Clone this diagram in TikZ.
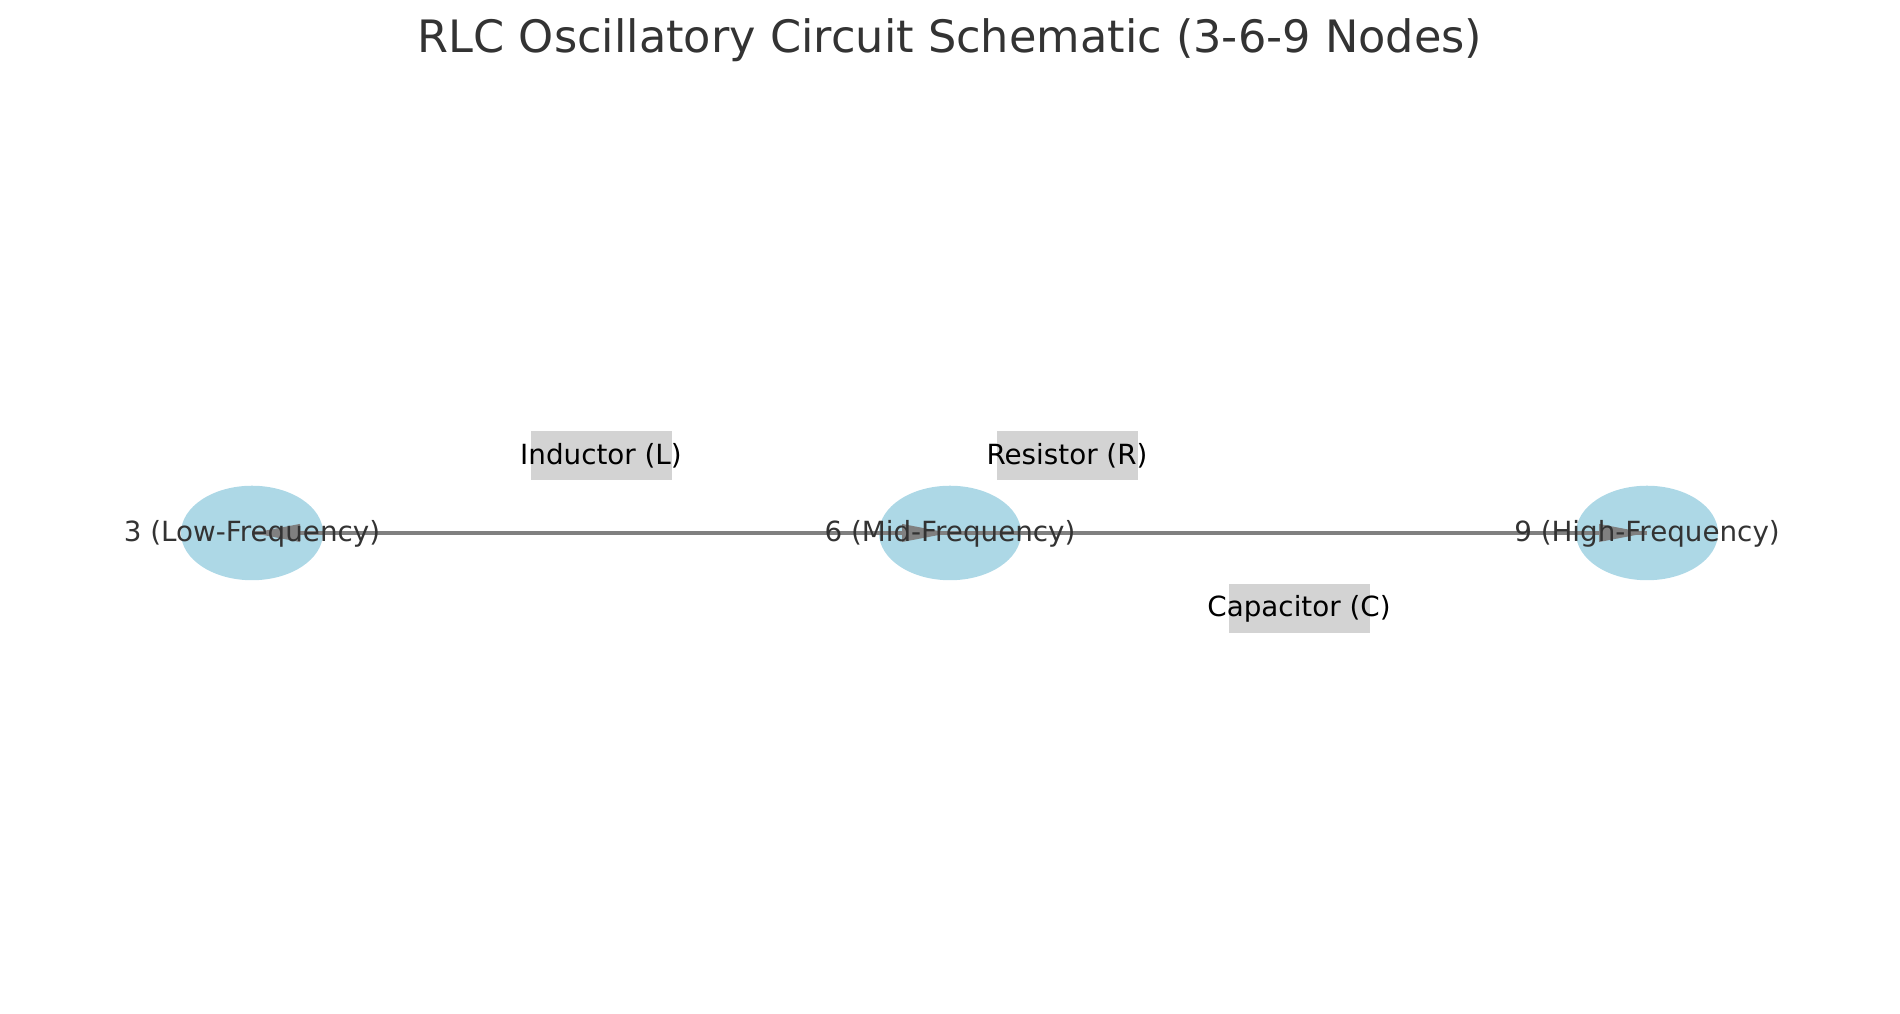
\documentclass[tikz,border=0pt]{standalone}
\usepackage{fontspec}
\setmainfont{DejaVu Sans}
\usetikzlibrary{arrows.meta,shapes.geometric}
\definecolor{nodeblue}{RGB}{173,216,230}
\definecolor{edgegray}{RGB}{128,128,128}
\definecolor{boxgray}{RGB}{211,211,211}
\definecolor{darktext}{RGB}{51,51,51}
\newcommand{\lbltext}[1]{\makebox[0pt]{#1}}

\begin{document}
\begin{tikzpicture}[
	freq/.style={ellipse, fill=nodeblue, minimum width=1.42cm, minimum height=0.945cm, inner sep=0pt},
	freqlabel/.style={text=darktext, font=\fontsize{7.9}{9}\selectfont},
	part/.style={fill=boxgray, minimum width=1.41cm, minimum height=0.49cm, inner sep=0pt, font=\fontsize{7.9}{9}\selectfont},
	wire/.style={draw=edgegray, line width=1.1pt, -{Triangle[length=4.8mm,width=1.7mm]}, fill=edgegray}
]
	\useasboundingbox (0, 0) rectangle (19, 10.14);
	\node[text=darktext, font=\fontsize{12.7}{15}\selectfont] (title) at (9.5, 9.74) {RLC Oscillatory Circuit Schematic (3-6-9 Nodes)};
	\node[freq] (n3) at (2.52, 4.81) {};
	\node[freq] (n6) at (9.50, 4.81) {};
	\node[freq] (n9) at (16.47, 4.81) {};
	\draw[wire] (n3.center) -- (n6.center);
	\draw[wire] (n6.center) -- (n9.center);
	\draw[wire] (n9.center) -- (n3.center);
	\node[freqlabel] (t3) at (2.52, 4.80) {3 (Low-Frequency)};
	\node[freqlabel] (t6) at (9.50, 4.80) {6 (Mid-Frequency)};
	\node[freqlabel] (t9) at (16.47, 4.80) {9 (High-Frequency)};
	\node[part] (L) at (6.01, 5.58) {\lbltext{Inductor (L)}};
	\node[part] (R) at (10.67, 5.58) {\lbltext{Resistor (R)}};
	\node[part] (C) at (12.99, 4.05) {\lbltext{Capacitor (C)}};
\end{tikzpicture}
\end{document}
